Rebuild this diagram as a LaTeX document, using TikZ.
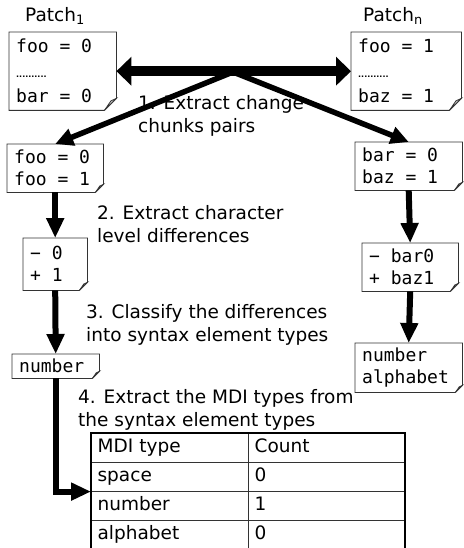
\documentclass[tikz,border=0pt]{standalone}
\usepackage{fontspec}
\setmainfont{DejaVu Sans}
\setmonofont{DejaVu Sans Mono}
\usetikzlibrary{arrows.meta}
\usetikzlibrary{matrix}
% monospaced memo text; \tsp is one blank cell of it
\newcommand{\memofont}[1]{\ttfamily\fontsize{18}{#1}\selectfont}
\newcommand{\tsp}{\hspace*{0.602em}}
% outline of a memo node with its bottom right corner folded up
\newcommand{\dogear}[2]{
  \draw [memoline] (#1.north west) -- (#1.north east)
        -- ([yshift=#2pt]#1.south east) -- ([xshift=-#2pt]#1.south east)
        -- (#1.south west) -- cycle;
  \filldraw [memoline,fill=gray!35] ([yshift=#2pt]#1.south east)
        -- ([xshift=-#2pt]#1.south east)
        -- ([shift={(-#2pt*0.45,#2pt*0.8)}]#1.south east) -- cycle;}

\begin{document}
\begin{tikzpicture}
[x=1pt,y=-1pt,
memo/.style={anchor=north west,font=\memofont{22},
  align=left,inner xsep=7,inner ysep=0},
memoline/.style={line width=0.8,draw=black!80},
note/.style={anchor=north west,align=left,inner sep=0,
  font=\fontsize{18.5}{23.5}\selectfont},
flow/.style={line width=6,-{Triangle[length=20,width=17]}},
branch/.style={line width=5.5,-{Triangle[length=18,width=17]}},
pair/.style={line width=10,
  {Triangle[length=15,width=28]}-{Triangle[length=15,width=28]}}]

\useasboundingbox (0,0) rectangle (463,548);

% the two patches
\node (titleA) [note,anchor=west] at (25,16) {Patch\textsubscript{1}};
\node (titleN) [note,anchor=west] at (363,16) {Patch\textsubscript{n}};
\node (patchA) [memo,text width=93,minimum height=78,font=\memofont{25}]
  at (9,32)
  {foo\tsp=\tsp0\\{\rmfamily\bfseries\fontsize{8}{8}\selectfont ..........}\\bar\tsp=\tsp0};
\dogear{patchA}{12}
\node (patchN) [memo,text width=96,minimum height=78,font=\memofont{25}]
  at (351,32)
  {foo\tsp=\tsp1\\{\rmfamily\bfseries\fontsize{8}{8}\selectfont ..........}\\baz\tsp=\tsp1};
\dogear{patchN}{12}

% change chunks
\node (chunkL) [memo,text width=82,minimum height=48] at (7,144)
  {foo\tsp=\tsp0\\foo\tsp=\tsp1};
\dogear{chunkL}{8}
\node (chunkR) [memo,text width=93,minimum height=48] at (355,142)
  {bar\tsp=\tsp0\\baz\tsp=\tsp1};
\dogear{chunkR}{8}

% character level differences
\node (diffL) [memo,text width=50,minimum height=52] at (23,238)
  {−\tsp0\\+\tsp1};
\dogear{diffL}{8}
\node (diffR) [memo,text width=82,minimum height=48] at (362,243)
  {−\tsp bar0\\+\tsp baz1};
\dogear{diffR}{8}

% syntax element types
\node (typeL) [memo,text width=73,minimum height=24] at (12,354)
  {number};
\dogear{typeL}{7}
\node (typeR) [memo,text width=93,minimum height=49] at (355,343)
  {number\\alphabet};
\dogear{typeR}{7}

% MDI table
\matrix (mdi) [matrix of nodes,anchor=north west,inner sep=0,
  column sep=-0.8,row sep=-0.8,
  nodes={draw=black!80,line width=0.8,inner xsep=6,inner ysep=0,
    minimum height=29,text height=13,text depth=3.5,align=left,
    font=\fontsize{18.5}{20}\selectfont},
  column 1/.style={nodes={text width=145}},
  column 2/.style={nodes={text width=144}}]
  at (91,433) {
  MDI type & Count \\
  space    & 0 \\
  number   & 1 \\
  alphabet & 0 \\
};
\draw [line width=2] (mdi.north west) rectangle (mdi.south east);

% steps
\node (step1) [note] at (138,95) {1. Extract change\\chunks pairs};
\node (step2) [note] at (97,205) {2. Extract character\\level differences};
\node (step3) [note] at (86,304) {3. Classify the differences\\into syntax element types};
\node (step4) [note] at (78,389) {4. Extract the MDI types from\\the syntax element types};

% arrows
\coordinate (fork) at (233,72);
\draw [branch] (fork) -- (chunkL.north);
\draw [branch] (fork) -- (chunkR.north);
\draw [pair] (patchA.east) -- (patchN.west);

\draw [flow] (chunkL.south) -- (diffL.north);
\draw [flow] (diffL.south) -- (typeL.north);
\draw [flow] (typeL.south) |- (mdi.west);
\draw [flow] (chunkR.south) -- (diffR.north);
\draw [flow] (diffR.south) -- (typeR.north);
\end{tikzpicture}
\end{document}
